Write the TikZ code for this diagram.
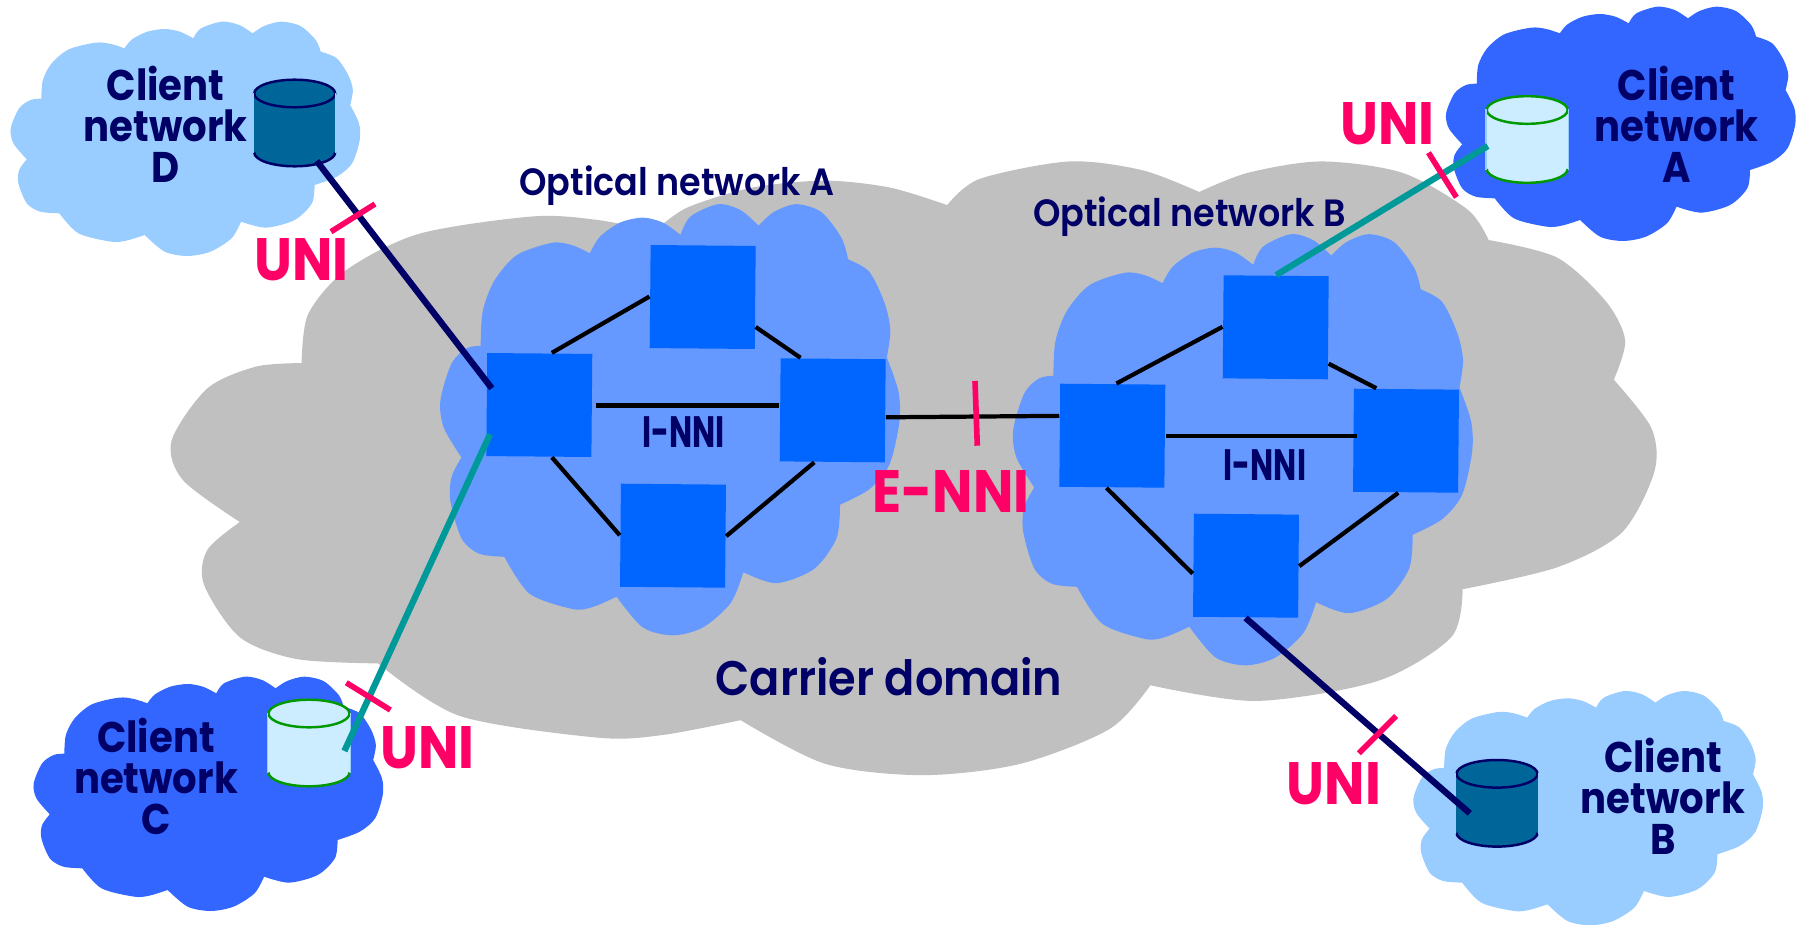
\documentclass[tikz,border=0pt]{standalone}
\usepackage{fontspec}
\newfontfamily\clientfont[FakeStretch=0.90]{Poppins}
\newfontfamily\domainfont[FakeStretch=0.92, BoldFont={Poppins SemiBold}]{Poppins}
\newfontfamily\unifont[FakeStretch=0.90]{Poppins}
\newfontfamily\slimfont[FakeStretch=0.70]{Poppins}
\usetikzlibrary{calc}

\definecolor{navyink}{HTML}{000066}
\definecolor{pinkink}{HTML}{FF0066}
\definecolor{tealline}{HTML}{009999}
\definecolor{carriergray}{HTML}{C0C0C0}
\definecolor{opticalblue}{HTML}{6699FF}
\definecolor{routerblue}{HTML}{0066FF}
\definecolor{clientpale}{HTML}{99CCFF}
\definecolor{clientdeep}{HTML}{3366FF}
\definecolor{dbdark}{HTML}{006699}
\definecolor{dbpale}{HTML}{CCECFF}
\definecolor{dbgreen}{HTML}{009900}

\begin{document}
\begin{tikzpicture}[
    x=0.01cm,
    y=-0.01cm,
    cloudshape/.pic={
        \fill[pic actions] plot[smooth] coordinates {(108,296) (112,240) (135,190) (180,148) (250,128) (290,132) (325,145)}
            -- plot[smooth] coordinates {(325,145) (345,118) (385,95) (430,87) (470,95) (505,115)}
            -- plot[smooth] coordinates {(505,115) (525,85) (580,65) (625,75) (660,100)}
            -- plot[smooth] coordinates {(660,100) (690,78) (735,65) (785,78) (825,120) (838,155)}
            -- plot[smooth] coordinates {(838,155) (880,175) (910,225) (922,270) (915,315)}
            -- plot[smooth] coordinates {(915,315) (938,370) (940,420) (920,490) (880,530) (822,555)}
            -- plot[smooth] coordinates {(822,555) (815,610) (770,660) (695,683) (630,665)}
            -- plot[smooth] coordinates {(630,665) (605,715) (550,755) (490,768) (430,755) (378,705)}
            -- plot[smooth] coordinates {(378,705) (330,722) (290,725) (205,700) (155,640)}
            -- plot[smooth] coordinates {(155,640) (105,635) (70,610) (48,550) (50,510) (70,478)}
            -- plot[smooth] coordinates {(70,478) (35,430) (28,385) (50,325) (80,300) (108,296)}
            -- cycle;
    },
    router/.style={
        rectangle,
        fill=routerblue,
        minimum width=1.05cm,
        minimum height=1.03cm,
        inner sep=0pt,
        rotate=-0.5,
    },
    storage/.style={
        rectangle,
        minimum width=0.81cm,
        minimum height=0.59cm,
        inner sep=0pt,
        fill=#1,
    },
    inner link/.style={
        line width=1.2pt,
        black,
    },
    uni link/.style={
        line width=1.8pt,
        line cap=butt,
    },
    cross mark/.style={
        line width=1.6pt,
        pinkink,
    },
    client text/.style={
        font=\clientfont\fontsize{12.2}{11.7}\selectfont\bfseries,
        text=navyink,
        align=center,
        inner sep=0pt,
    },
    domain text/.style={
        font=\domainfont\fontsize{#1}{#1}\selectfont\bfseries,
        text=navyink,
        inner sep=0pt,
    },
    nni text/.style={
        font=\slimfont\fontsize{12.5}{12.5}\selectfont\bfseries,
        text=navyink,
        inner sep=0pt,
    },
    uni text/.style={
        font=\unifont\fontsize{17}{17}\selectfont\bfseries,
        text=pinkink,
        inner sep=0pt,
    }
]
    \useasboundingbox (0,0) rectangle (1800,924);

    % Carrier domain
    \pic[fill=carriergray, xscale=1.626, yscale=0.873] at (126,104.7) {cloudshape};

    % Optical networks
    \pic[fill=opticalblue, xscale=0.5033, yscale=0.6133] at (426.3,164.3) {cloudshape};
    \pic[fill=opticalblue, xscale=0.5033, yscale=0.6133] at (999,194.3) {cloudshape};

    % Client networks
    \pic[fill=clientpale, xscale=0.3827, yscale=0.3333] at (0,0) {cloudshape};
    \pic[fill=clientdeep, xscale=0.3827, yscale=0.3333] at (1435.4,-15) {cloudshape};
    \pic[fill=clientdeep, xscale=0.3827, yscale=0.3333] at (23,655) {cloudshape};
    \pic[fill=clientpale, xscale=0.3827, yscale=0.3333] at (1402.8,669.3) {cloudshape};

    % Routers of network A
    \node[router] (routerAL) at (539.3,405) {};
    \node[router] (routerAT) at (702.7,297) {};
    \node[router] (routerAR) at (832.7,410.3) {};
    \node[router] (routerAB) at (673,535.7) {};

    % Routers of network B
    \node[router] (routerBL) at (1112.3,435.7) {};
    \node[router] (routerBT) at (1275.7,327.3) {};
    \node[router] (routerBR) at (1406,440.7) {};
    \node[router] (routerBB) at (1246,565.7) {};

    % Storage in the client networks
    \node[storage=dbdark] (dbD) at (294.7,123) {};
    \node[storage=dbpale] (dbA) at (1527.2,139.5) {};
    \node[storage=dbpale] (dbC) at (309,743) {};
    \node[storage=dbdark] (dbB) at (1497,803.3) {};
    \foreach \db/\body/\ink in {dbD/dbdark/navyink, dbA/dbpale/dbgreen, dbC/dbpale/dbgreen, dbB/dbdark/navyink} {
        \fill[\body, shift={(\db.center)}] (0,29.5) ellipse [x radius=40.5, y radius=13.8];
        \draw[\ink, line width=0.7pt, fill=\body, shift={(\db.center)}] (0,-29.5) ellipse [x radius=40.5, y radius=13.8];
        \draw[\ink, line width=0.7pt, shift={(\db.center)}] (-40.5,29.5) arc [start angle=180, end angle=0, x radius=40.5, y radius=13.8];
        \draw[clientpale, line width=0.3pt] (\db.north west) -- (\db.south west);
        \draw[clientpale, line width=0.3pt] (\db.north east) -- (\db.south east);
    }

    % Links inside the optical networks
    \draw[inner link] (routerAL.77) -- (routerAT.west);
    \draw[inner link] (routerAT.-29) -- (routerAR.122);
    \draw[inner link, shorten <=.3mm] (routerAL.east) -- (routerAL.east -| routerAR.west);
    \draw[inner link] (routerAL.-76) -- (routerAB.west);
    \draw[inner link] (routerAB.east) -- (routerAR.-109);
    \draw[inner link] (routerBL.86) -- (routerBT.west);
    \draw[inner link] (routerBT.-34) -- (routerBR.120);
    \draw[inner link, shorten >=-.4mm] (routerBL.east) -- (routerBL.east -| routerBR.west);
    \draw[inner link] (routerBL.-96) -- (routerBB.189);
    \draw[inner link] (routerBB.east) -- (routerBR.-98);
    \draw[inner link] (routerAR.-7) -- (routerBL.160);

    % Links to the clients
    \draw[uni link, navyink] ([shift={(22,38)}]dbD.center) -- ([shift={(-47.5,-16.7)}]routerAL.center);
    \draw[uni link, tealline] ([shift={(35.4,8)}]dbC.center) -- ([shift={(-49.3,29.3)}]routerAL.center);
    \draw[uni link, tealline] ([shift={(-39.4,6.5)}]dbA.center) -- (routerBT.north);
    \draw[uni link, navyink] ([shift={(-27.2,10)}]dbB.center) -- (routerBB.south);

    % Cross marks
    \coordinate (markD1) at (331,231.7);
    \coordinate (markD2) at (375,204);
    \coordinate (markC1) at (346.3,682.7);
    \coordinate (markC2) at (390.4,710);
    \coordinate (markA1) at (1428.5,152.7);
    \coordinate (markA2) at (1456.4,197.3);
    \coordinate (markB1) at (1358.8,753.3);
    \coordinate (markB2) at (1396,716);
    \coordinate (markE1) at (975,381);
    \coordinate (markE2) at (977.3,445.7);
    \draw[cross mark] (markD1) -- (markD2);
    \draw[cross mark] (markC1) -- (markC2);
    \draw[cross mark] (markA1) -- (markA2);
    \draw[cross mark] (markB1) -- (markB2);
    \draw[cross mark] (markE1) -- (markE2);

    % Client labels
    \node[client text] (clientD) at (165.5,124.3) {Client\\network\\D};
    \node[client text] (clientA) at (1676.8,124.3) {Client\\network\\A};
    \node[client text] (clientC) at (156,776.3) {Client\\network\\C};
    \node[client text] (clientB) at (1662.9,796) {Client\\network\\B};

    % Network labels
    \node[domain text=10.8, anchor=base] (opticalA) at (677,195.7) {Optical network A};
    \node[domain text=10.8, anchor=base] (opticalB) at (1189.5,226) {Optical network B};
    \node[domain text=13.8, anchor=base] (carrier) at (889,695.7) {Carrier domain};
    \node[nni text, anchor=base] (innerA) at (683.3,447.3) {I-NNI};
    \node[nni text, anchor=base] (innerB) at (1265,480.7) {I-NNI};

    % Interface labels
    \node[uni text, anchor=base] (uniD) at (301.6,280) {UNI};
    \node[uni text, anchor=base] (uniA) at (1387.7,144.7) {UNI};
    \node[uni text, anchor=base] (uniC) at (427.6,768.3) {UNI};
    \node[uni text, anchor=base] (uniB) at (1334,804.3) {UNI};
    \node[uni text, anchor=base] (external) at (951,512.7) {E-NNI};
\end{tikzpicture}
\end{document}
